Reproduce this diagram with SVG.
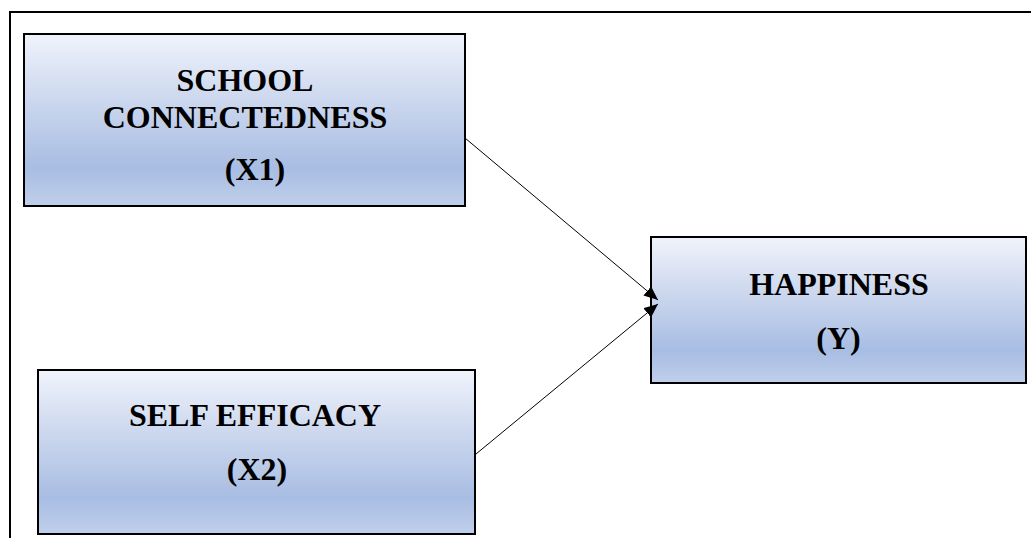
<svg xmlns="http://www.w3.org/2000/svg" width="1031" height="538" viewBox="0 0 1031 538">
<defs>
<linearGradient id="g" x1="0" y1="0" x2="0" y2="1">
<stop offset="0" stop-color="#f0f3fb"/>
<stop offset="0.45" stop-color="#c6d3ec"/>
<stop offset="0.78" stop-color="#a8bde3"/>
<stop offset="1" stop-color="#c0cfeb"/>
</linearGradient>
<marker id="ah" viewBox="0 0 14 12" refX="14" refY="6" markerWidth="14" markerHeight="12" markerUnits="userSpaceOnUse" orient="auto">
<path d="M0,0 L14,6 L0,12 Z" fill="#000"/>
</marker>
</defs>
<style>
.box{fill:url(#g);stroke:#000;stroke-width:2}
.t{font-family:"Liberation Serif","Times New Roman",serif;font-weight:bold;font-size:32px;fill:#000;text-anchor:middle}
.c{stroke:#000;stroke-width:1;fill:none;marker-end:url(#ah)}
</style>
<rect x="0" y="0" width="1031" height="538" fill="#fff"/>
<path d="M10,539 L10,12 L1032,12" fill="none" stroke="#000" stroke-width="2"/>
<g id="x1">
<rect class="box" x="24" y="34" width="441" height="172"/>
<text class="t" x="245" y="91">SCHOOL</text>
<text class="t" x="245" y="128">CONNECTEDNESS</text>
<text class="t" x="255" y="180">(X1)</text>
</g>
<g id="y">
<rect class="box" x="651" y="237" width="375" height="146"/>
<text class="t" x="839" y="295">HAPPINESS</text>
<text class="t" x="838.5" y="349">(Y)</text>
</g>
<g id="x2">
<rect class="box" x="38" y="370" width="437" height="164"/>
<text class="t" x="255" y="426">SELF EFFICACY</text>
<text class="t" x="257" y="480">(X2)</text>
</g>
<g id="connectors">
<line class="c" x1="465" y1="138" x2="658" y2="300"/>
<line class="c" x1="476" y1="454" x2="658" y2="304"/>
</g>
</svg>
